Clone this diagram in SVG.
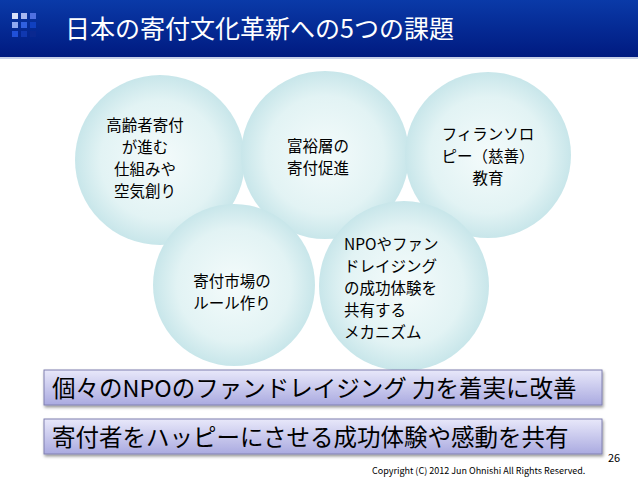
<svg xmlns="http://www.w3.org/2000/svg" width="638" height="479" viewBox="0 0 638 479">
<defs>
<linearGradient id="hd" x1="0" y1="0" x2="0" y2="1"><stop offset="0" stop-color="#0a3aa8"/><stop offset="1" stop-color="#001a80"/></linearGradient>
<radialGradient id="ci"><stop offset="0" stop-color="#f4fbfb"/><stop offset="0.7" stop-color="#e2f3f4"/><stop offset="1" stop-color="#c8e6ea"/></radialGradient>
<linearGradient id="bar" x1="0" y1="0" x2="0" y2="1"><stop offset="0" stop-color="#e8e8fa"/><stop offset="1" stop-color="#aaaae0"/></linearGradient>
<filter id="sh" x="-5%" y="-20%" width="110%" height="150%"><feDropShadow dx="1" dy="2" stdDeviation="1.5" flood-opacity="0.4"/></filter>
<style>
.t{font-family:"Noto Sans CJK JP","Liberation Sans",sans-serif;fill:#000}
.c{font-size:15.5px;text-anchor:middle}
.l{font-size:15.5px}
.b{font-size:23.5px}
</style>
</defs>
<rect width="638" height="479" fill="#fff"/>
<g id="header">
<rect x="0" y="0" width="638" height="57" fill="url(#hd)"/>
<rect x="0" y="57" width="638" height="2" fill="#c8d0e8"/>
<rect x="12" y="13" width="6" height="6" fill="#d8e0f8"/><rect x="21" y="13" width="6" height="6" fill="#a8b8f0"/><rect x="30" y="13" width="6" height="6" fill="#5070e0"/>
<rect x="12" y="22" width="6" height="6" fill="#90a8f0"/><rect x="21" y="22" width="6" height="6" fill="#3060e0"/><rect x="30" y="22" width="6" height="6" fill="#1040c0"/>
<rect x="12" y="31" width="6" height="6" fill="#2050d8"/><rect x="21" y="31" width="6" height="6" fill="#1038b0"/><rect x="30" y="31" width="6" height="6" fill="#0a2890"/>
<text x="65" y="38" class="t" style="font-size:25px;fill:#fff">日本の寄付文化革新への5つの課題</text>
</g>
<g id="c1"><circle cx="160" cy="160" r="85" fill="url(#ci)"/><text class="t c"><tspan x="145" y="131">高齢者寄付</tspan><tspan x="145" y="153">が進む</tspan><tspan x="145" y="175">仕組みや</tspan><tspan x="145" y="197">空気創り</tspan></text></g>
<g id="c2"><circle cx="325" cy="155" r="84" fill="url(#ci)"/><text class="t c"><tspan x="318" y="152">富裕層の</tspan><tspan x="318" y="174">寄付促進</tspan></text></g>
<g id="c3"><circle cx="488" cy="155" r="83" fill="url(#ci)"/><text class="t c"><tspan x="488" y="140">フィランソロ</tspan><tspan x="488" y="162">ピー（慈善）</tspan><tspan x="488" y="184">教育</tspan></text></g>
<g id="c4"><circle cx="234" cy="285" r="81" fill="url(#ci)"/><text class="t c"><tspan x="232" y="287">寄付市場の</tspan><tspan x="232" y="309">ルール作り</tspan></text></g>
<g id="c5"><circle cx="404" cy="286" r="85" fill="url(#ci)"/><text class="t l"><tspan x="344" y="250">NPOやファン</tspan><tspan x="344" y="272">ドレイジング</tspan><tspan x="344" y="294">の成功体験を</tspan><tspan x="344" y="316">共有する</tspan><tspan x="344" y="338">メカニズム</tspan></text></g>
<g id="bar1"><rect x="44" y="370" width="558" height="35" fill="url(#bar)" stroke="#8080b0" stroke-width="1" filter="url(#sh)"/><text x="52" y="397" class="t b">個々のNPOのファンドレイジング 力を着実に改善</text></g>
<g id="bar2"><rect x="44" y="419" width="558" height="35" fill="url(#bar)" stroke="#8080b0" stroke-width="1" filter="url(#sh)"/><text x="52" y="446" class="t b">寄付者をハッピーにさせる成功体験や感動を共有</text></g>
<g id="connectors"/>
<text x="608" y="462" class="t" style="font-size:11px">26</text>
<text x="372" y="474" class="t" style="font-size:9px">Copyright (C) 2012 Jun Ohnishi All Rights Reserved.</text>
</svg>
